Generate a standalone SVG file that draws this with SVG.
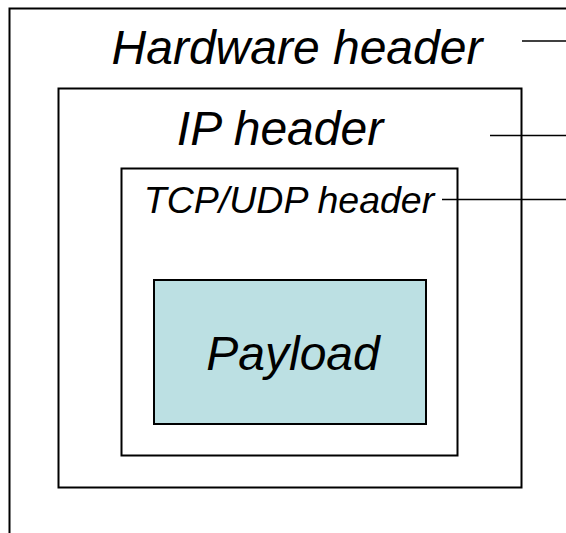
<svg xmlns="http://www.w3.org/2000/svg" width="566" height="533" viewBox="0 0 566 533">
<style>
.box{fill:none;stroke:#000;stroke-width:2}
.lbl{font-family:"Liberation Sans",Arial,sans-serif;font-style:italic;fill:#000;text-anchor:middle}
.ln{stroke:#000;stroke-width:1.5;fill:none}
</style>
<rect width="566" height="533" fill="#fff"/>
<g id="hardware">
<rect class="box" x="9.5" y="8.5" width="600" height="600"/>
<text class="lbl" x="297" y="64" font-size="48">Hardware header</text>
</g>
<g id="ip">
<rect class="box" x="58.5" y="88.5" width="463" height="399"/>
<text class="lbl" x="280" y="145" font-size="48">IP header</text>
</g>
<g id="tcp">
<rect class="box" x="121.5" y="168.5" width="336" height="287"/>
<text class="lbl" x="289" y="213" font-size="37.5">TCP/UDP header</text>
</g>
<g id="payload">
<rect x="154" y="280" width="272" height="144" fill="#BCE0E3" stroke="#000" stroke-width="2"/>
<text class="lbl" x="293" y="370" font-size="48">Payload</text>
</g>
<g id="connectors">
<line class="ln" x1="522" y1="41" x2="566" y2="41"/>
<line class="ln" x1="490" y1="135.5" x2="566" y2="135.5"/>
<line class="ln" x1="442" y1="199.5" x2="566" y2="199.5"/>
</g>
</svg>
